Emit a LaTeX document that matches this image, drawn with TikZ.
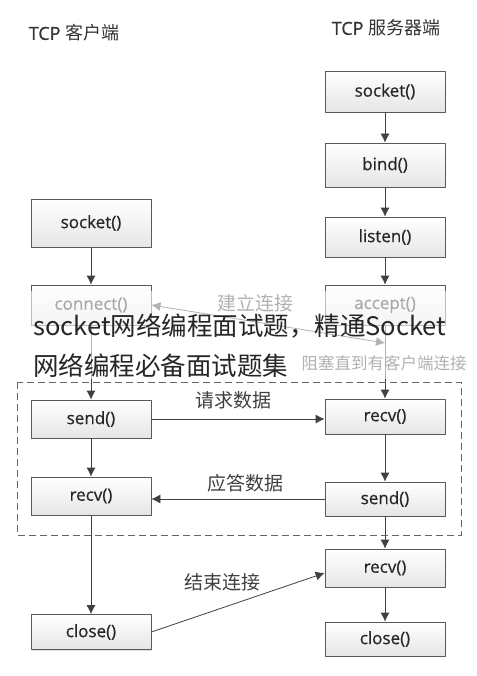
\documentclass[tikz,border=0pt]{standalone}
\usepackage{fontspec}
\setmainfont{Open Sans}
\newfontfamily\boxfont[FakeBold=0.6]{Open Sans}
\newfontfamily\cjk{Noto Sans CJK SC}
\usetikzlibrary{arrows.meta,shadows}
\begin{document}
\begin{tikzpicture}[x=1pt,y=-1pt,line join=round,>={Latex[length=9pt,width=9pt]},
	box/.style={draw=black!65,line width=0.8pt,top color=white,bottom color=black!10,minimum width=120pt,minimum height=40pt,inner sep=0pt,font=\boxfont\fontsize{17}{20}\selectfont,text=black!85,drop shadow={shadow xshift=1pt,shadow yshift=-1pt,opacity=0.25}},
	link/.style={->,draw=black!75,line width=0.8pt},
	note/.style={font=\cjk\fontsize{19}{22}\selectfont,text=black!75},
	head/.style={font=\boxfont\fontsize{18}{22}\selectfont,text=black!80}]
		\fill[white] (0,0) rectangle (476,676);
		\useasboundingbox (0,0) rectangle (476,676);
		\node[head] (ctitle) at (74,33) {TCP {\cjk 客户端}};
		\node[head] (stitle) at (386,28) {TCP {\cjk 服务器端}};
		\node[box,minimum height=41pt] (ssocket) at (385,91.5) {socket()};
		\node[box,minimum height=44pt] (sbind) at (385,165) {bind()};
		\node[box] (slisten) at (385,237) {listen()};
		\node[box] (saccept) at (385,305) {accept()};
		\node[box,minimum height=35pt] (srecv) at (385,416.5) {recv()};
		\node[box,minimum height=34pt] (ssend) at (385,499) {send()};
		\node[box,minimum height=38pt] (srecvb) at (385,568) {recv()};
		\node[box,minimum height=34pt] (sclose) at (385,639) {close()};
		\node[box,minimum height=48pt] (csocket) at (91,223) {socket()};
		\node[box] (cconnect) at (91,305) {connect()};
		\node[box,minimum height=38pt] (csend) at (91,419) {send()};
		\node[box,minimum height=38pt] (crecv) at (91,496) {recv()};
		\node[box,minimum height=35pt] (cclose) at (91,632) {close()};
		\coordinate (sjoin) at (385,343);
		\draw[link] (csocket) -- (cconnect);
		\draw[link] (cconnect) -- (csend);
		\draw[link] (csend) -- (crecv);
		\draw[link] (crecv) -- (cclose);
		\foreach \a/\b in {ssocket/sbind,sbind/slisten,slisten/saccept,saccept/srecv,srecv/ssend,ssend/srecvb,srecvb/sclose}
			\draw[link] (\a) -- (\b);
		\draw[link,<->] (cconnect.east) -- (sjoin);
		\draw[link] (csend.east) -- (csend.east -| srecv.west);
		\draw[link] (ssend.west) -- (ssend.west -| crecv.east);
		\draw[link] (cclose.east) -- ([yshift=-5pt]srecvb.west);
		\node[note] (lconn) at (255,303) {建立连接};
		\node[note,font=\cjk\fontsize{16.5}{20}\selectfont] (lblock) at (384,363) {阻塞直到有客户端连接};
		\node[note] (lreq) at (233,400) {请求数据};
		\node[note] (lresp) at (245,483) {应答数据};
		\node[note] (lend) at (222,582) {结束连接};
		\draw[black!60,line width=0.8pt,dash pattern=on 7pt off 4pt] (17,382) rectangle (461,535);
		\fill[white,opacity=0.6] (0,291) rectangle (476,379);
		\node[anchor=west,inner sep=0pt,text=black!85,font=\cjk\fontsize{25.5}{30}\selectfont] (capa) at (33,326) {socket网络编程面试题，精通Socket};
		\node[anchor=west,inner sep=0pt,text=black!85,font=\cjk\fontsize{25.5}{30}\selectfont] (capb) at (33,366) {网络编程必备面试题集};
	\end{tikzpicture}
\end{document}
